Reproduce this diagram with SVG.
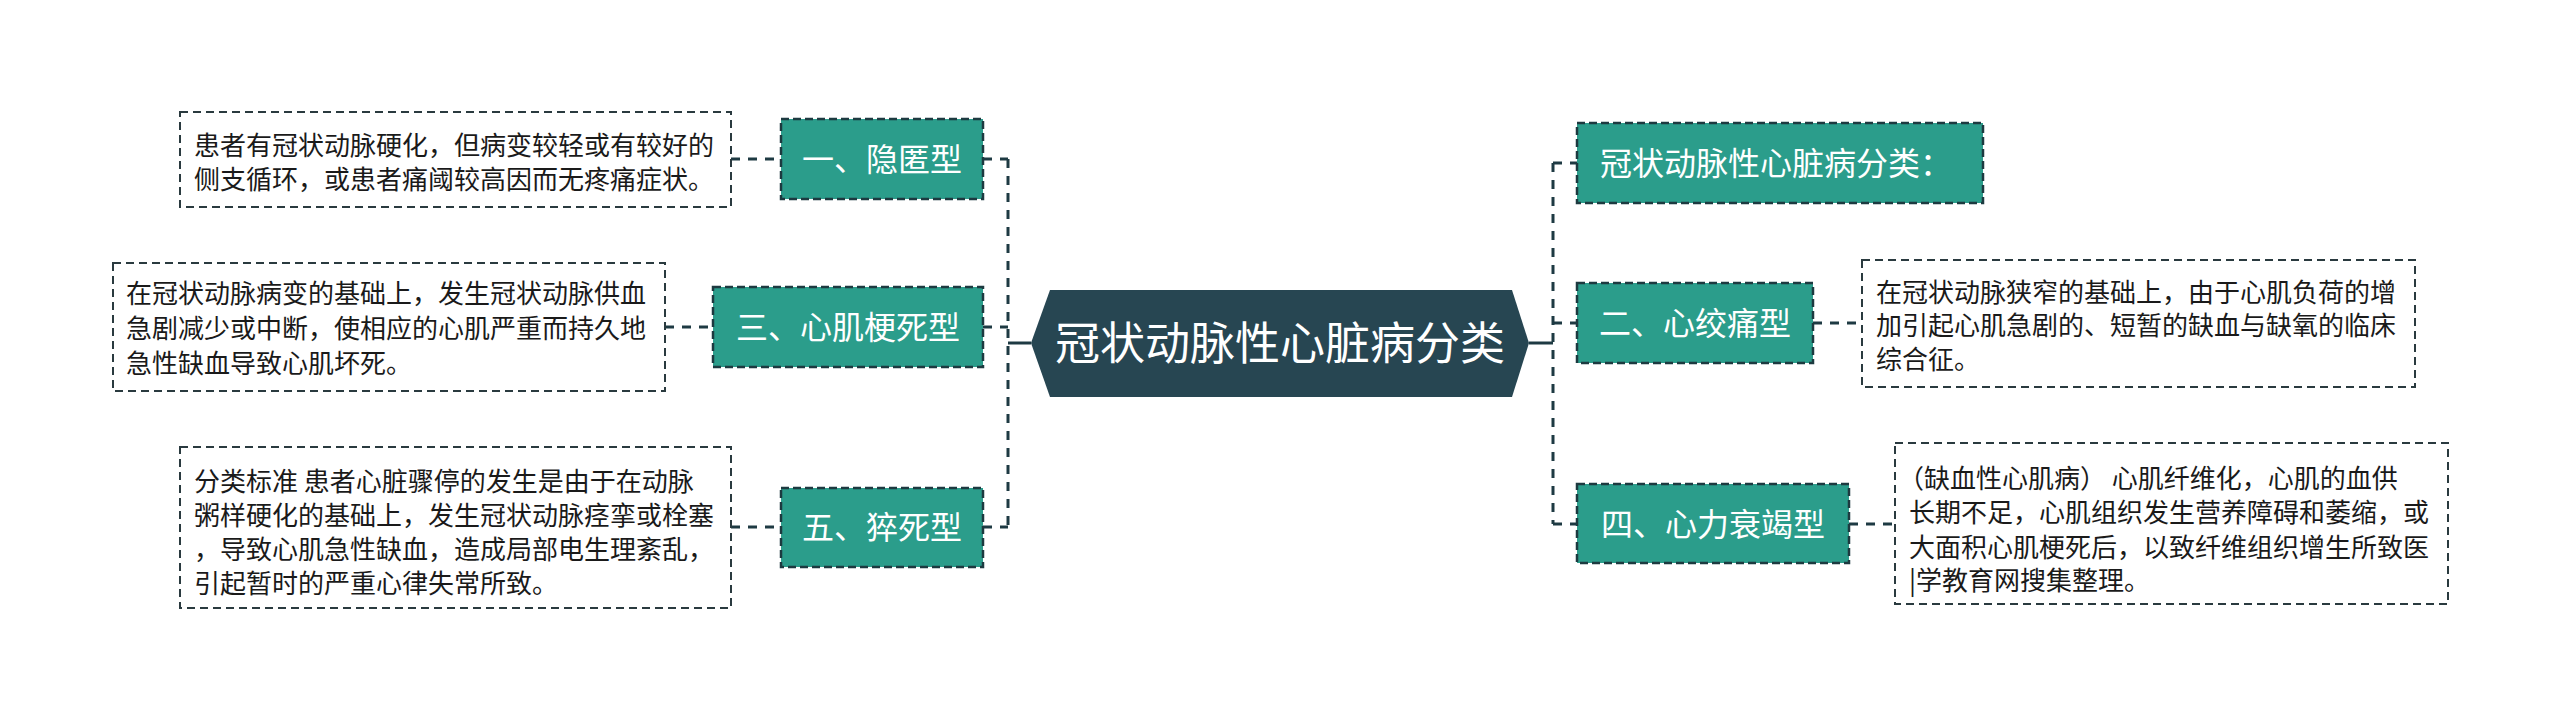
<svg xmlns="http://www.w3.org/2000/svg" width="2560" height="721" viewBox="0 0 2560 721">
<style>
.bg{fill:#ffffff}
.node rect{fill:#2b9d8b;stroke:#1d3a40;stroke-width:2.5;stroke-dasharray:8 4}
.node text{fill:#ffffff;font-family:"Noto Sans CJK SC","Noto Sans",sans-serif;font-size:32px;text-anchor:middle}
.desc rect{fill:#ffffff;stroke:#2a3a3f;stroke-width:2;stroke-dasharray:8 5}
.desc text{fill:#1a1a1a;font-family:"Noto Sans CJK SC","Noto Sans",sans-serif;font-size:26px}
.root polygon{fill:#274652}
.root text{fill:#ffffff;font-family:"Noto Sans CJK SC","Noto Sans",sans-serif;font-size:45px;text-anchor:middle}
.dash{fill:none;stroke:#1e3a43;stroke-width:3;stroke-dasharray:9 8}
.solid{fill:none;stroke:#1e3a43;stroke-width:3}
</style>
<rect class="bg" x="0" y="0" width="2560" height="721"/>
<g id="connectors">
<path class="solid" d="M1008,343 H1031"/>
<path class="dash" d="M1008,159 V527"/>
<path class="dash" d="M983,159 H1008"/>
<path class="dash" d="M983,327 H1008"/>
<path class="dash" d="M983,527 H1008"/>
<path class="dash" d="M731,159 H781"/>
<path class="dash" d="M665,327 H713"/>
<path class="dash" d="M731,527 H781"/>
<path class="solid" d="M1529,343 H1553"/>
<path class="dash" d="M1553,163 V524"/>
<path class="dash" d="M1553,163 H1577"/>
<path class="dash" d="M1553,323 H1577"/>
<path class="dash" d="M1553,524 H1577"/>
<path class="dash" d="M1813,323 H1862"/>
<path class="dash" d="M1849,524 H1895"/>
</g>
<g id="root" class="root">
<polygon points="1031,343 1050,290 1512,290 1529,343 1512,397 1050,397"/>
<text x="1280" y="360">冠状动脉性心脏病分类</text>
</g>
<g id="n1" class="node">
<rect x="781" y="119" width="202" height="80"/>
<text x="882" y="171">一、隐匿型</text>
</g>
<g id="n3" class="node">
<rect x="713" y="287" width="270" height="80"/>
<text x="848" y="339">三、心肌梗死型</text>
</g>
<g id="n5" class="node">
<rect x="781" y="488" width="202" height="79"/>
<text x="882" y="539">五、猝死型</text>
</g>
<g id="n0" class="node">
<rect x="1577" y="123" width="406" height="80"/>
<text x="1776" y="175">冠状动脉性心脏病分类：</text>
</g>
<g id="n2" class="node">
<rect x="1577" y="283" width="236" height="80"/>
<text x="1695" y="335">二、心绞痛型</text>
</g>
<g id="n4" class="node">
<rect x="1577" y="484" width="272" height="79"/>
<text x="1713" y="536">四、心力衰竭型</text>
</g>
<g id="d1" class="desc">
<rect x="180" y="112" width="551" height="95"/>
<text x="194" y="155">患者有冠状动脉硬化，但病变较轻或有较好的</text>
<text x="194" y="189">侧支循环，或患者痛阈较高因而无疼痛症状。</text>
</g>
<g id="d3" class="desc">
<rect x="113" y="263" width="552" height="128"/>
<text x="126" y="303">在冠状动脉病变的基础上，发生冠状动脉供血</text>
<text x="126" y="338">急剧减少或中断，使相应的心肌严重而持久地</text>
<text x="126" y="373">急性缺血导致心肌坏死。</text>
</g>
<g id="d5" class="desc">
<rect x="180" y="447" width="551" height="161"/>
<text x="194" y="491">分类标准 患者心脏骤停的发生是由于在动脉</text>
<text x="194" y="525">粥样硬化的基础上，发生冠状动脉痉挛或栓塞</text>
<text x="194" y="559">，导致心肌急性缺血，造成局部电生理紊乱，</text>
<text x="194" y="593">引起暂时的严重心律失常所致。</text>
</g>
<g id="d2" class="desc">
<rect x="1862" y="260" width="553" height="127"/>
<text x="1876" y="302">在冠状动脉狭窄的基础上，由于心肌负荷的增</text>
<text x="1876" y="335">加引起心肌急剧的、短暂的缺血与缺氧的临床</text>
<text x="1876" y="369">综合征。</text>
</g>
<g id="d4" class="desc">
<rect x="1895" y="443" width="553" height="161"/>
<text x="1898" y="488">（缺血性心肌病） 心肌纤维化，心肌的血供</text>
<text x="1909" y="522">长期不足，心肌组织发生营养障碍和萎缩，或</text>
<text x="1909" y="557">大面积心肌梗死后，以致纤维组织增生所致医</text>
<text x="1909" y="590">|学教育网搜集整理。</text>
</g>
</svg>
